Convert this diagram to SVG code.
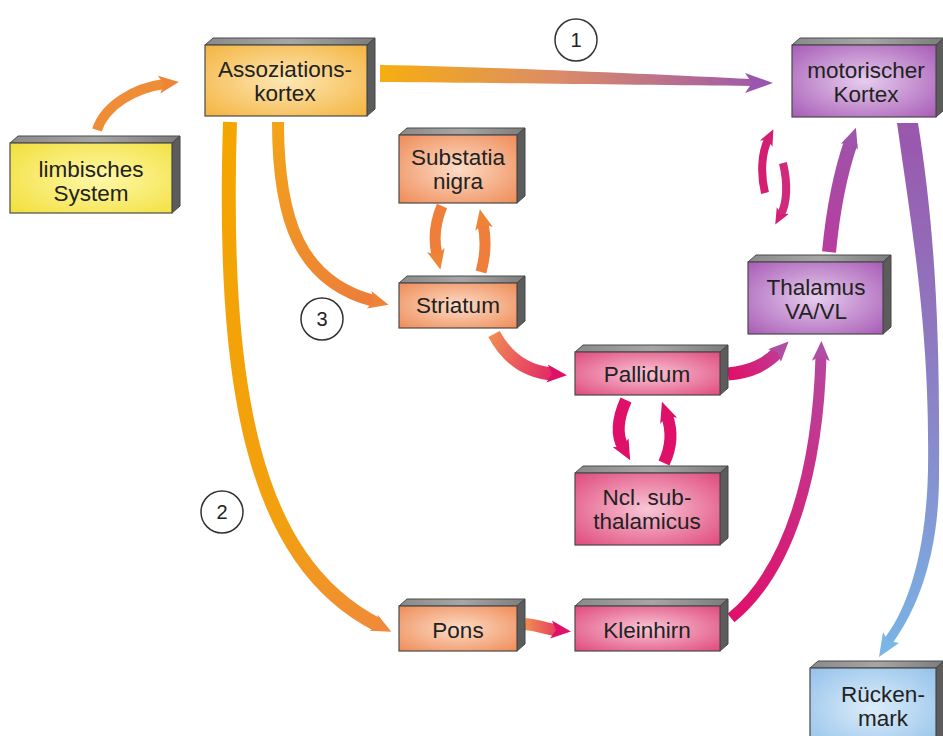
<svg xmlns="http://www.w3.org/2000/svg" width="943" height="736" viewBox="0 0 943 736">
<style>
.top{fill:url(#gTop);stroke:#4a4a4a;stroke-width:1}
.side{fill:#5c5c5c;stroke:#444;stroke-width:1}
.front{stroke:#4a4a4a;stroke-width:1.2}
.lbl{font-family:"Liberation Sans",Arial,Helvetica,sans-serif;font-size:22.5px;fill:#222;text-anchor:middle}
.num{font-family:"Liberation Sans",Arial,Helvetica,sans-serif;font-size:20px;fill:#222;text-anchor:middle}
.ring{fill:#fff;stroke:#333;stroke-width:1.5}
.con{fill:none;stroke-linecap:butt}
</style>
<defs>
<linearGradient id="gTop" x1="0" y1="0" x2="1" y2="0"><stop offset="0" stop-color="#8a8a8a"/><stop offset="0.5" stop-color="#a6a6a6"/><stop offset="1" stop-color="#7c7c7c"/></linearGradient>
<radialGradient id="gYellow" cx="0.55" cy="0.5" r="0.7"><stop offset="0" stop-color="#fff8a8"/><stop offset="1" stop-color="#f2e040"/></radialGradient>
<radialGradient id="gAmber" cx="0.5" cy="0.5" r="0.7"><stop offset="0" stop-color="#fde7b4"/><stop offset="1" stop-color="#f4b440"/></radialGradient>
<radialGradient id="gSalmon" cx="0.5" cy="0.5" r="0.7"><stop offset="0" stop-color="#fcdcc6"/><stop offset="1" stop-color="#ef8c58"/></radialGradient>
<radialGradient id="gPink" cx="0.5" cy="0.5" r="0.7"><stop offset="0" stop-color="#f8c6d6"/><stop offset="1" stop-color="#e04a7c"/></radialGradient>
<radialGradient id="gPurple" cx="0.5" cy="0.5" r="0.7"><stop offset="0" stop-color="#e6cdee"/><stop offset="1" stop-color="#a85cb6"/></radialGradient>
<radialGradient id="gBlue" cx="0.5" cy="0.5" r="0.7"><stop offset="0" stop-color="#dcedfa"/><stop offset="1" stop-color="#94c2ea"/></radialGradient>

<linearGradient id="gA1" gradientUnits="userSpaceOnUse" x1="380" y1="0" x2="772" y2="0"><stop offset="0" stop-color="#f6ae10"/><stop offset="0.45" stop-color="#dc8c66"/><stop offset="1" stop-color="#9a56ae"/></linearGradient>
<linearGradient id="gC" gradientUnits="userSpaceOnUse" x1="230" y1="122" x2="390" y2="630"><stop offset="0" stop-color="#f4a600"/><stop offset="0.75" stop-color="#f2a010"/><stop offset="1" stop-color="#f08a3a"/></linearGradient>
<linearGradient id="gD" gradientUnits="userSpaceOnUse" x1="278" y1="122" x2="390" y2="303"><stop offset="0" stop-color="#f3a418"/><stop offset="1" stop-color="#ec7c3c"/></linearGradient>
<linearGradient id="gF" gradientUnits="userSpaceOnUse" x1="492" y1="335" x2="572" y2="374"><stop offset="0" stop-color="#f08a55"/><stop offset="1" stop-color="#e0106a"/></linearGradient>
<linearGradient id="gH" gradientUnits="userSpaceOnUse" x1="730" y1="373" x2="793" y2="337"><stop offset="0" stop-color="#e0106a"/><stop offset="1" stop-color="#b44aa2"/></linearGradient>
<linearGradient id="gI" gradientUnits="userSpaceOnUse" x1="732" y1="618" x2="822" y2="338"><stop offset="0" stop-color="#e0106a"/><stop offset="1" stop-color="#b44aa2"/></linearGradient>
<linearGradient id="gJ" gradientUnits="userSpaceOnUse" x1="525" y1="0" x2="575" y2="0"><stop offset="0" stop-color="#f08e50"/><stop offset="1" stop-color="#e0106a"/></linearGradient>
<linearGradient id="gK" gradientUnits="userSpaceOnUse" x1="829" y1="252" x2="857" y2="123"><stop offset="0" stop-color="#b83c9e"/><stop offset="1" stop-color="#9c56ac"/></linearGradient>
<linearGradient id="gM" gradientUnits="userSpaceOnUse" x1="0" y1="123" x2="0" y2="655"><stop offset="0" stop-color="#9a56ad"/><stop offset="0.55" stop-color="#8a86c8"/><stop offset="1" stop-color="#78b4e6"/></linearGradient>

<marker id="mOrange" markerUnits="userSpaceOnUse" viewBox="0 -10 22 20" markerWidth="22" markerHeight="20" refX="5" refY="0" orient="auto"><path d="M0,-9 L20,0 L0,9 L5,0 Z" fill="#ee8436"/></marker>
<marker id="mOrange2" markerUnits="userSpaceOnUse" viewBox="0 -10 22 20" markerWidth="22" markerHeight="20" refX="5" refY="0" orient="auto"><path d="M0,-9 L20,0 L0,9 L5,0 Z" fill="#f08a3a"/></marker>
<marker id="mMagenta" markerUnits="userSpaceOnUse" viewBox="0 -10 22 20" markerWidth="22" markerHeight="20" refX="5" refY="0" orient="auto"><path d="M0,-9 L20,0 L0,9 L5,0 Z" fill="#de1068"/></marker>
<marker id="mPurple" markerUnits="userSpaceOnUse" viewBox="0 -10 22 20" markerWidth="22" markerHeight="20" refX="5" refY="0" orient="auto"><path d="M0,-9 L20,0 L0,9 L5,0 Z" fill="#b04ea6"/></marker>
<marker id="mPurple2" markerUnits="userSpaceOnUse" viewBox="0 -10 22 20" markerWidth="22" markerHeight="20" refX="5" refY="0" orient="auto"><path d="M0,-9 L20,0 L0,9 L5,0 Z" fill="#9e56ac"/></marker>
<marker id="mPink" markerUnits="userSpaceOnUse" viewBox="0 -8 18 16" markerWidth="18" markerHeight="16" refX="4" refY="0" orient="auto"><path d="M0,-7 L16,0 L0,7 L4,0 Z" fill="#d41e72"/></marker>
</defs>

<g id="connectors">
<path id="c-limb-assoz" class="con" d="M97,130 C105,105 135,88 164,84" stroke="#ef8c36" stroke-width="10" marker-end="url(#mOrange)"/>
<g id="c-assoz-motor">
<path d="M380,65 C500,67 650,74 752,79 L752,86 C650,85 500,83 380,82 Z" fill="url(#gA1)"/>
<path d="M773,83 L745,73 L752,83 L745,93 Z" fill="#9a56ae"/>
</g>
<path id="c-assoz-pons" class="con" d="M230,122 C222,380 250,560 378,625" stroke="url(#gC)" stroke-width="14" marker-end="url(#mOrange2)"/>
<path id="c-assoz-striatum" class="con" d="M278,122 C278,220 300,282 374,301" stroke="url(#gD)" stroke-width="12" marker-end="url(#mOrange)"/>
<path id="c-nigra-striatum" class="con" d="M442,206 C434,225 434,242 437,255" stroke="#ee7e3a" stroke-width="11" marker-end="url(#mOrange)"/>
<path id="c-striatum-nigra" class="con" d="M481,272 C486,254 486,238 483,224" stroke="#ee7e3a" stroke-width="11" marker-end="url(#mOrange)"/>
<path id="c-striatum-pallidum" class="con" d="M494,334 C508,360 528,372 552,374" stroke="url(#gF)" stroke-width="13" marker-end="url(#mMagenta)"/>
<path id="c-pallidum-ncl" class="con" d="M626,400 C617,420 617,436 623,447" stroke="#e0106a" stroke-width="12" marker-end="url(#mMagenta)"/>
<path id="c-ncl-pallidum" class="con" d="M664,463 C672,446 672,430 667,416" stroke="#e0106a" stroke-width="12" marker-end="url(#mMagenta)"/>
<path id="c-pallidum-thalamus" class="con" d="M728,374 C752,372 766,364 778,352" stroke="url(#gH)" stroke-width="13" marker-end="url(#mPurple)"/>
<path id="c-kleinhirn-thalamus" class="con" d="M731,618 C790,570 818,470 821,356" stroke="url(#gI)" stroke-width="11" marker-end="url(#mPurple)"/>
<path id="c-pons-kleinhirn" class="con" d="M525,624 C538,625 546,629 556,630" stroke="url(#gJ)" stroke-width="12" marker-end="url(#mMagenta)"/>
<path id="c-thalamus-motor" class="con" d="M829,252 C834,200 842,168 851,142" stroke="url(#gK)" stroke-width="14" marker-end="url(#mPurple2)"/>
<path id="c-loop-up" class="con" d="M765,193 C760,172 762,152 768,140" stroke="#d41e72" stroke-width="8" marker-end="url(#mPink)"/>
<path id="c-loop-down" class="con" d="M783,163 C788,184 787,203 781,214" stroke="#d02a7c" stroke-width="8" marker-end="url(#mPink)"/>
<g id="c-motor-rueckenmark">
<path d="M897,123 C912,230 930,330 928,470 C926,560 905,612 884,639 L892,644 C914,614 940,560 939,470 C940,330 935,230 918,123 Z" fill="url(#gM)"/>
<path d="M879,657 L883,632 L888,641 L899,643 Z" fill="#7ab6e6"/>
</g>
</g>

<g id="labels-numbers">
<g id="num-1"><circle class="ring" cx="576" cy="40" r="21"/><text class="num" x="576" y="47">1</text></g>
<g id="num-2"><circle class="ring" cx="222" cy="512" r="21"/><text class="num" x="222" y="519">2</text></g>
<g id="num-3"><circle class="ring" cx="322" cy="319" r="21"/><text class="num" x="322" y="326">3</text></g>
</g>

<g id="limbisches-system">
<polygon class="top" points="10,143 18,136 180,136 172,143"/>
<polygon class="side" points="172,143 180,136 180,206 172,213"/>
<rect class="front" x="10" y="143" width="162" height="70" fill="url(#gYellow)"/>
<text class="lbl" x="91" y="176.5">limbisches</text>
<text class="lbl" x="91" y="200.5">System</text>
</g>

<g id="assoziationskortex">
<polygon class="top" points="205,45 213,38 375,38 367,45"/>
<polygon class="side" points="367,45 375,38 375,109 367,116"/>
<rect class="front" x="205" y="45" width="162" height="71" fill="url(#gAmber)"/>
<text class="lbl" x="285" y="76.5">Assoziations-</text>
<text class="lbl" x="285" y="100.5">kortex</text>
</g>

<g id="motorischer-kortex">
<polygon class="top" points="792,45 800,38 944,38 936,45"/>
<polygon class="side" points="936,45 944,38 944,110 936,117"/>
<rect class="front" x="792" y="45" width="144" height="72" fill="url(#gPurple)"/>
<text class="lbl" x="866" y="77.5">motorischer</text>
<text class="lbl" x="866" y="101.5">Kortex</text>
</g>

<g id="substantia-nigra">
<polygon class="top" points="399,135 407,128 525,128 517,135"/>
<polygon class="side" points="517,135 525,128 525,196 517,203"/>
<rect class="front" x="399" y="135" width="118" height="68" fill="url(#gSalmon)"/>
<text class="lbl" x="458" y="164.5">Substatia</text>
<text class="lbl" x="458" y="188.5">nigra</text>
</g>

<g id="striatum">
<polygon class="top" points="399,283 407,276 525,276 517,283"/>
<polygon class="side" points="517,283 525,276 525,321 517,328"/>
<rect class="front" x="399" y="283" width="118" height="45" fill="url(#gSalmon)"/>
<text class="lbl" x="458" y="313">Striatum</text>
</g>

<g id="thalamus">
<polygon class="top" points="748,262 756,255 891,255 883,262"/>
<polygon class="side" points="883,262 891,255 891,327 883,334"/>
<rect class="front" x="748" y="262" width="135" height="72" fill="url(#gPurple)"/>
<text class="lbl" x="816" y="294.5">Thalamus</text>
<text class="lbl" x="816" y="318.5">VA/VL</text>
</g>

<g id="pallidum">
<polygon class="top" points="575,352 583,345 728,345 720,352"/>
<polygon class="side" points="720,352 728,345 728,388 720,395"/>
<rect class="front" x="575" y="352" width="145" height="43" fill="url(#gPink)"/>
<text class="lbl" x="647" y="382">Pallidum</text>
</g>

<g id="ncl-subthalamicus">
<polygon class="top" points="575,473 583,466 728,466 720,473"/>
<polygon class="side" points="720,473 728,466 728,538 720,545"/>
<rect class="front" x="575" y="473" width="145" height="72" fill="url(#gPink)"/>
<text class="lbl" x="647" y="504.5">Ncl. sub-</text>
<text class="lbl" x="647" y="528.5">thalamicus</text>
</g>

<g id="pons">
<polygon class="top" points="399,606 407,599 525,599 517,606"/>
<polygon class="side" points="517,606 525,599 525,644 517,651"/>
<rect class="front" x="399" y="606" width="118" height="45" fill="url(#gSalmon)"/>
<text class="lbl" x="458" y="638">Pons</text>
</g>

<g id="kleinhirn">
<polygon class="top" points="575,606 583,599 728,599 720,606"/>
<polygon class="side" points="720,606 728,599 728,644 720,651"/>
<rect class="front" x="575" y="606" width="145" height="45" fill="url(#gPink)"/>
<text class="lbl" x="647" y="638">Kleinhirn</text>
</g>

<g id="rueckenmark">
<polygon class="top" points="810,668 818,661 944,661 936,668"/>
<polygon class="side" points="936,668 944,661 944,740 936,747"/>
<rect class="front" x="810" y="668" width="126" height="80" fill="url(#gBlue)"/>
<text class="lbl" x="883" y="701.5">Rücken-</text>
<text class="lbl" x="883" y="725.5">mark</text>
</g>
</svg>
